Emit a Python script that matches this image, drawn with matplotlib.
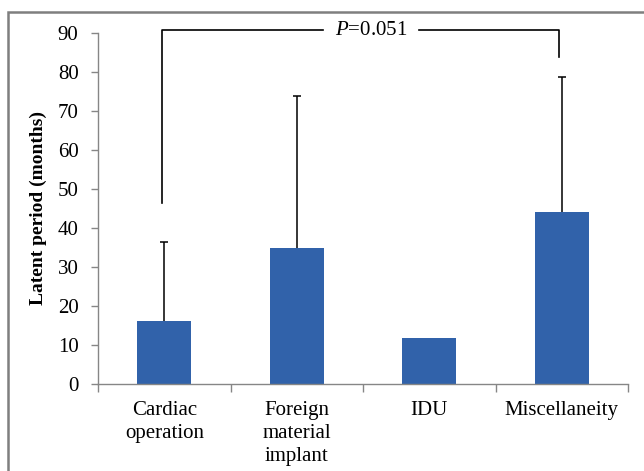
import matplotlib.pyplot as plt
from matplotlib.patches import Rectangle

categories = ['Cardiac\noperation', 'Foreign\nmaterial\nimplant', 'IDU', 'Miscellaneity']
means = [16.3, 34.9, 11.9, 44.1]
upper_err = [20.2, 38.9, 0.0, 34.5]

plt.rcParams['font.family'] = ['Liberation Serif', 'DejaVu Serif']
plt.rcParams['mathtext.fontset'] = 'custom'
plt.rcParams['mathtext.it'] = 'Liberation Serif:italic'
plt.rcParams['mathtext.rm'] = 'Liberation Serif'

fig = plt.figure(figsize=(6.44, 4.71), dpi=100)
ax = fig.add_axes([0.1522, 0.1841, 0.8230, 0.7465])

x = list(range(len(categories)))
ax.bar(x, means, width=0.405, color='#3162AA', zorder=2)

# upper error bars only (no cap at the bar top)
ex = [xi for xi, e in zip(x, upper_err) if e > 0]
em = [m for m, e in zip(means, upper_err) if e > 0]
ee = [e for e in upper_err if e > 0]
eb = ax.errorbar(ex, em, yerr=[[0] * len(ee), ee], fmt='none',
                 ecolor='black', elinewidth=1.1, capsize=3, capthick=1.1, zorder=3)
eb[1][0].set_visible(False)

ax.set_xlim(-0.5, len(categories) - 0.5)
ax.set_ylim(0, 90)
ax.set_yticks(range(0, 91, 10))
ax.set_xticks(x)
ax.set_xticklabels(categories, fontsize=15, linespacing=1.3)
ax.set_xticks([i - 0.5 for i in range(len(categories) + 1)], minor=True)
ax.tick_params(axis='x', which='major', length=0, pad=12)
ax.tick_params(axis='x', which='minor', length=6, color='#868686', width=1)
ax.tick_params(axis='y', length=5, color='#868686', width=1, pad=9, labelsize=15)
ax.set_ylabel('Latent period (months)', fontsize=14, fontweight='bold', labelpad=8)

for s in ['top', 'right']:
    ax.spines[s].set_visible(False)
for s in ['left', 'bottom']:
    ax.spines[s].set_color('#868686')
    ax.spines[s].set_linewidth(1)

# significance bracket between Cardiac and Miscellaneity
y_top = 90.6
xl, xr = -0.02, 2.98
ax.plot([xl, xl, 1.2], [46.5, y_top, y_top], color='black', lw=1.2, clip_on=False)
ax.plot([1.92, xr, xr], [y_top, y_top, 83.8], color='black', lw=1.2, clip_on=False)
ax.text(1.56, y_top, r'$P$=0.051', ha='center', va='center', fontsize=15)

# frame around the figure
fig.patches.append(Rectangle((7.5 / 644, -0.1), 1.2, (471 - 12.3) / 471 + 0.1,
                             transform=fig.transFigure, fill=False,
                             edgecolor='#7f7f7f', lw=1.8))

fig.savefig('out.png', dpi=100)
